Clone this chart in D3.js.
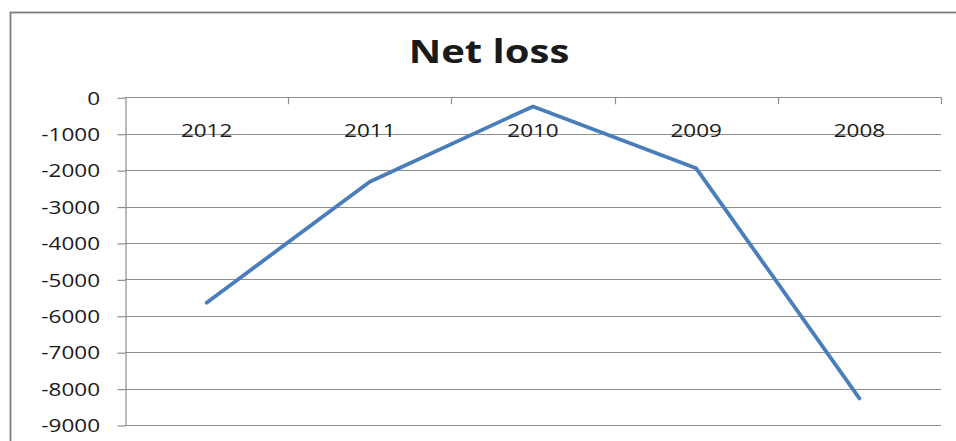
<!DOCTYPE html>
<html>
<head>
<meta charset="utf-8">
<script src="https://cdn.jsdelivr.net/npm/d3@7"></script>
<style>
  html, body { margin: 0; padding: 0; background: #fff; }
  svg { display: block; }
  text { font-family: "Open Sans", "DejaVu Sans", sans-serif; fill: #1a1a1a; }
</style>
</head>
<body>
<svg id="chart" width="956" height="441"></svg>
<script>
// Net loss by year
const years = ["2012", "2011", "2010", "2009", "2008"];
const netLoss = [-5640, -2320, -250, -1950, -8270];
const yTicks = [0, -1000, -2000, -3000, -4000, -5000, -6000, -7000, -8000, -9000];
const title = "Net loss";

const W = 956, H = 441;
const plot = { left: 125, right: 941, top: 97.3, bottom: 425 };
const stretch = 1.25; // glyphs are drawn horizontally widened

const svg = d3.select("#chart");

// outer chart frame
svg.append("rect")
  .attr("x", 10.5).attr("y", 12.5)
  .attr("width", W + 20).attr("height", H + 20)
  .attr("fill", "none").attr("stroke", "#7f7f7f").attr("stroke-width", 1.8);

const x = d3.scaleBand().domain(years).range([plot.left, plot.right]).padding(0);
const y = d3.scaleLinear().domain([0, -9000]).range([plot.top, plot.bottom]);

// horizontal gridlines
svg.append("g")
  .selectAll("line")
  .data(yTicks)
  .join("line")
  .attr("x1", plot.left).attr("x2", plot.right)
  .attr("y1", d => Math.round(y(d)) + 0.5).attr("y2", d => Math.round(y(d)) + 0.5)
  .attr("stroke", "#8e8e8e").attr("stroke-width", 1.2);

// value axis (plain hyphen for negatives)
const yAxis = svg.append("g")
  .attr("transform", `translate(${plot.left + 0.5},0)`)
  .call(d3.axisLeft(y).tickValues(yTicks).tickSize(8).tickSizeOuter(0).tickFormat(d => String(d)));
yAxis.select(".domain").attr("stroke", "#8e8e8e").attr("stroke-width", 1.2);
yAxis.selectAll(".tick line").attr("stroke", "#8e8e8e").attr("stroke-width", 1.2)
  .attr("transform", "translate(0,0.5)");
yAxis.selectAll(".tick text")
  .attr("x", null).attr("dy", "0.35em")
  .attr("transform", `translate(-25.5,0.5) scale(${stretch},1)`)
  .style("font-size", "18px").style("font-family", "'Open Sans', sans-serif")
  .attr("fill", "#1a1a1a");
yAxis.attr("font-size", null).attr("font-family", null);

// category axis along the zero line: boundary ticks and centred labels
const bounds = years.map(d => x(d)).concat([plot.right]);
const catAxis = svg.append("g");
catAxis.selectAll("line")
  .data(bounds.slice(1))
  .join("line")
  .attr("x1", d => Math.round(d) + 0.5).attr("x2", d => Math.round(d) + 0.5)
  .attr("y1", y(0)).attr("y2", y(0) + 7)
  .attr("stroke", "#8e8e8e").attr("stroke-width", 1.2);
catAxis.selectAll("text")
  .data(years)
  .join("text")
  .attr("text-anchor", "middle")
  .attr("transform", d => `translate(${x(d) + x.bandwidth() / 2},136.5) scale(${stretch},1)`)
  .style("font-size", "18px")
  .text(d => d);

// series line
const line = d3.line()
  .x((d, i) => x(years[i]) + x.bandwidth() / 2)
  .y(d => y(d));
svg.append("path")
  .datum(netLoss)
  .attr("d", line)
  .attr("fill", "none")
  .attr("stroke", "#4a7ebb")
  .attr("stroke-width", 3.8)
  .attr("stroke-linejoin", "round")
  .attr("stroke-linecap", "round");

// title
svg.append("text")
  .attr("text-anchor", "middle")
  .attr("transform", `translate(489,63) scale(${stretch},1)`)
  .style("font-size", "32px")
  .style("font-weight", "bold")
  .text(title);
</script>
</body>
</html>
